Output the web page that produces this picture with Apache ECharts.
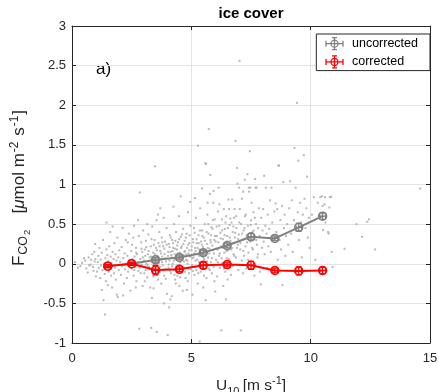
<!DOCTYPE html>
<html>
<head>
<meta charset="utf-8">
<script src="https://cdn.jsdelivr.net/npm/echarts@6/dist/echarts.min.js"></script>
<style>
  html, body { margin: 0; padding: 0; background: #ffffff; }
  #chart { width: 439px; height: 392px; }
</style>
</head>
<body>
<div id="chart"></div>
<script>
// Wind-speed bins (U10, m/s)
const binCenters = [1.5, 2.5, 3.5, 4.5, 5.5, 6.5, 7.5, 8.5, 9.5, 10.5];
// Bin-averaged CO2 flux, uncorrected
const uncorrected = [-0.03, 0.00, 0.05, 0.08, 0.14, 0.23, 0.34, 0.32, 0.46, 0.60];
const uncorrectedErr = [0.02, 0.02, 0.03, 0.03, 0.03, 0.03, 0.04, 0.03, 0.05, 0.04];
// Bin-averaged CO2 flux, corrected
const corrected = [-0.03, 0.00, -0.08, -0.07, -0.02, -0.01, -0.02, -0.085, -0.09, -0.085];
const correctedErr = [0.02, 0.02, 0.06, 0.03, 0.04, 0.03, 0.05, 0.03, 0.05, 0.04];
// Half-width of each wind-speed bin error bar
const windErr = [0.12, 0.12, 0.12, 0.12, 0.12, 0.12, 0.12, 0.12, 0.12, 0.12];

// Individual flux measurements [U10, FCO2]
const obs0to2 = [
  [0.12,0.02],[0.35,-0.03],[0.55,0.04],[0.6,-0.06],[0.7,0.08],[0.78,-0.01],[0.85,0.12],[0.9,-0.09],[0.95,0.03],[0.98,0.06],
  [0.42,0.01],[0.66,-0.11],[0.8,0.05],[0.88,-0.04],[0.93,0.15],[1.0,-0.16],[0.5,0.07],[0.72,-0.02],[0.25,-0.05],[0.97,0.25],
  [1.05,-0.1],[1.08,0.02],[1.1,0.1],[1.12,-0.05],[1.15,0.2],[1.18,-0.18],[1.2,0.05],[1.22,-0.02],[1.25,0.14],[1.28,-0.08],
  [1.3,0.3],[1.32,-0.46],[1.35,0.0],[1.37,-0.13],[1.38,-0.64],[1.4,0.07],[1.42,-0.22],[1.44,0.18],[1.46,-0.04],[1.48,0.11],
  [1.5,-0.27],[1.52,0.03],[1.54,-0.1],[1.56,0.22],[1.58,-0.06],[1.6,0.4],[1.62,0.09],[1.64,-0.15],[1.66,0.01],[1.68,-0.3],
  [1.7,0.15],[1.72,-0.02],[1.74,0.06],[1.76,-0.12],[1.78,0.26],[1.8,-0.05],[1.82,0.12],[1.84,-0.2],[1.86,0.04],[1.88,-0.39],
  [1.9,0.33],[1.92,-0.42],[1.94,0.08],[1.96,-0.08],[1.98,0.17],[1.45,0.52],[1.7,0.47],[1.25,-0.33]
];
const obs2to4 = [
  [2.02,0.02],[2.05,-0.14],[2.08,0.21],[2.1,-0.03],[2.12,0.45],[2.15,0.07],[2.18,-0.25],[2.2,0.13],[2.22,-0.07],[2.25,0.3],
  [2.28,0.0],[2.3,-0.18],[2.32,0.1],[2.35,-0.1],[2.38,0.38],[2.4,0.05],[2.42,-0.02],[2.45,-0.34],[2.48,0.16],[2.5,-0.06],
  [2.52,0.24],[2.55,0.03],[2.58,-0.15],[2.6,0.48],[2.62,0.09],[2.65,-0.04],[2.68,0.2],[2.7,-0.22],[2.72,0.12],[2.75,0.01],
  [2.78,-0.09],[2.8,0.35],[2.82,-0.82],[2.84,0.9],[2.86,0.06],[2.88,-0.12],[2.9,0.27],[2.92,-0.01],[2.94,0.15],[2.96,-0.28],
  [2.98,0.42],[2.33,0.27],[2.57,0.33],[2.67,-0.3],[2.14,-0.4],[2.77,0.55],
  [3.02,0.04],[3.05,0.18],[3.08,-0.08],[3.1,0.29],[3.12,0.0],[3.15,-0.17],[3.18,0.12],[3.2,0.37],[3.22,-0.04],[3.25,0.08],
  [3.28,-0.3],[3.3,0.22],[3.32,-0.81],[3.34,0.02],[3.36,0.47],[3.38,-0.12],[3.4,0.14],[3.42,-0.31],[3.44,0.06],[3.46,0.3],
  [3.48,1.23],[3.5,-0.06],[3.52,0.2],[3.54,0.55],[3.55,-0.86],[3.57,0.1],[3.6,-0.2],[3.62,0.26],[3.64,0.01],[3.66,0.4],
  [3.68,-0.1],[3.7,0.16],[3.72,0.05],[3.74,-0.25],[3.76,0.33],[3.78,0.09],[3.8,-0.02],[3.82,0.22],[3.84,0.58],[3.86,-0.15],
  [3.88,0.12],[3.9,0.28],[3.92,-0.07],[3.94,0.03],[3.96,0.45],[3.98,-0.38],[3.15,0.5],[3.6,0.62],[3.35,-0.43],[3.85,-0.5],
  [3.05,-0.22],[3.7,0.7]
];
const obs4to6 = [
  [4.01,-0.9],[4.02,0.1],[4.04,-0.05],[4.06,0.25],[4.07,-0.55],[4.08,0.04],[4.1,0.36],[4.12,-0.45],[4.13,0.15],[4.15,-0.12],
  [4.17,0.08],[4.18,-0.41],[4.2,0.3],[4.22,0.0],[4.24,0.2],[4.26,-0.08],[4.28,0.5],[4.3,0.12],[4.32,-0.2],[4.34,0.06],
  [4.36,0.4],[4.38,-0.03],[4.4,0.18],[4.42,-0.15],[4.44,0.27],[4.46,0.09],[4.48,0.6],[4.5,-0.28],[4.52,0.14],[4.54,0.02],
  [4.56,0.34],[4.58,-0.1],[4.6,0.22],[4.62,0.07],[4.64,-0.34],[4.66,0.44],[4.68,0.11],[4.7,-0.05],[4.72,0.29],[4.74,0.16],
  [4.76,-0.18],[4.78,0.05],[4.8,0.38],[4.81,-0.33],[4.82,0.2],[4.84,0.0],[4.86,0.65],[4.88,0.13],[4.9,-0.12],[4.92,0.26],
  [4.94,0.09],[4.96,0.48],[4.98,-0.07],[4.25,0.72],[4.55,0.85],[4.95,0.78],[4.35,-0.25],[4.85,-0.22],
  [5.01,0.17],[5.03,-0.02],[5.05,-0.39],[5.07,0.31],[5.09,0.08],[5.11,0.45],[5.13,-0.14],[5.15,0.2],[5.17,0.04],[5.19,0.58],
  [5.21,-0.08],[5.23,0.26],[5.25,0.12],[5.27,-0.25],[5.28,1.49],[5.3,0.36],[5.32,0.02],[5.34,0.18],[5.35,-0.98],[5.37,0.7],
  [5.39,-0.1],[5.41,0.28],[5.43,0.1],[5.45,0.42],[5.47,-0.04],[5.49,0.21],[5.5,-0.3],[5.52,0.33],[5.54,0.06],[5.56,0.5],
  [5.58,0.15],[5.59,1.27],[5.6,-0.46],[5.62,1.26],[5.63,-0.18],[5.65,0.25],[5.67,0.62],[5.68,0.77],[5.7,0.08],[5.72,0.38],
  [5.73,1.7],[5.74,-0.06],[5.76,0.19],[5.78,0.88],[5.79,1.12],[5.8,0.3],[5.82,0.02],[5.84,0.46],[5.86,-0.12],[5.88,0.23],
  [5.9,0.55],[5.92,0.77],[5.93,0.92],[5.95,0.13],[5.97,-0.22],[5.99,0.35],[5.45,0.95],[5.15,0.83]
];
const obs6to8 = [
  [6.02,0.28],[6.04,0.05],[6.06,0.47],[6.08,-0.16],[6.1,0.18],[6.12,0.66],[6.14,0.96],[6.16,0.1],[6.18,0.75],[6.2,-0.05],
  [6.22,0.39],[6.24,0.22],[6.26,-0.84],[6.28,0.56],[6.3,0.01],[6.32,0.31],[6.34,-0.28],[6.36,0.69],[6.38,0.14],[6.4,0.44],
  [6.42,-0.1],[6.44,0.26],[6.46,0.6],[6.48,0.07],[6.5,0.35],[6.52,-0.2],[6.54,0.17],[6.56,0.81],[6.58,0.69],[6.6,0.49],
  [6.62,0.03],[6.64,0.29],[6.66,-0.14],[6.68,0.52],[6.7,0.2],[6.71,0.81],[6.73,0.4],[6.75,-0.03],[6.77,0.12],[6.79,0.58],
  [6.81,0.69],[6.83,0.33],[6.85,1.55],[6.87,0.08],[6.89,0.45],[6.92,1.21],[6.93,1.01],[6.95,0.24],[6.97,-0.08],[6.99,0.37],
  [6.0,-0.35],[6.45,-0.45],
  [7.0,0.96],[7.02,2.56],[7.03,0.69],[7.05,0.18],[7.07,-0.84],[7.09,0.5],[7.11,0.04],[7.12,0.82],[7.14,0.3],[7.16,-0.12],
  [7.17,0.91],[7.19,0.42],[7.21,0.1],[7.24,1.06],[7.25,0.6],[7.27,0.22],[7.3,-0.06],[7.32,0.36],[7.35,1.13],[7.37,0.48],
  [7.39,0.14],[7.41,0.96],[7.42,0.91],[7.45,1.42],[7.47,0.28],[7.48,0.96],[7.5,0.55],[7.52,0.77],[7.54,-0.02],[7.56,0.4],
  [7.58,0.18],[7.6,0.65],[7.62,0.32],[7.64,-0.15],[7.67,1.07],[7.69,0.96],[7.71,0.5],[7.73,0.96],[7.75,0.24],[7.77,0.08],
  [7.8,0.45],[7.83,0.7],[7.86,0.35],[7.88,-0.1],[7.91,-0.26],[7.93,0.58],[7.96,0.2],[7.98,0.42]
];
const obs8to15 = [
  [8.01,0.69],[8.03,0.28],[8.05,1.11],[8.07,0.12],[8.1,0.48],[8.12,0.96],[8.15,0.38],[8.18,-0.05],[8.2,0.62],[8.23,0.22],
  [8.26,0.44],[8.3,0.8],[8.33,0.15],[8.36,0.96],[8.39,0.52],[8.42,0.3],[8.45,-0.12],[8.48,0.66],[8.53,0.76],[8.56,0.4],
  [8.6,0.69],[8.62,0.05],[8.65,1.24],[8.67,1.24],[8.7,0.3],[8.73,0.55],[8.76,0.18],[8.8,0.73],[8.82,-0.27],[8.85,1.03],
  [8.88,0.45],[8.91,0.62],[8.94,0.1],[8.97,0.35],
  [9.02,0.5],[9.06,0.24],[9.1,0.7],[9.14,1.04],[9.18,0.38],[9.21,0.8],[9.25,0.15],[9.3,0.55],[9.32,1.46],[9.37,0.96],
  [9.4,0.42],[9.43,2.03],[9.46,0.65],[9.48,1.3],[9.52,0.3],[9.56,0.77],[9.6,0.52],[9.63,0.08],[9.67,0.62],[9.71,1.37],
  [9.74,0.82],[9.78,0.45],[9.82,0.7],[9.85,1.1],[9.88,0.33],[9.92,0.58],[9.96,0.2],
  [10.05,0.62],[10.13,0.84],[10.2,0.05],[10.3,0.77],[10.4,0.84],[10.47,0.85],[10.5,0.73],[10.52,0.425],[10.58,0.75],[10.6,0.84],
  [10.62,0.52],[10.73,0.4],[10.75,0.38],[10.78,0.71],[10.8,0.84],[10.86,0.845],[10.88,0.15],[10.92,-0.04],[11.42,0.19],[11.92,0.5],
  [12.15,0.34],[12.37,0.53],[12.44,0.56],[12.7,0.18],[14.59,0.95]
];
// Densely sampled moderate-wind core, 2.5-7.5 m/s
const obsCore = [
  [2.53,0.06],[2.61,-0.08],[2.69,0.14],[2.74,0.02],[2.83,-0.05],[2.91,0.19],[2.97,0.08],[3.03,-0.12],[3.07,0.1],[3.11,0.21],
  [3.16,-0.02],[3.21,0.16],[3.26,-0.07],[3.31,0.09],[3.33,0.31],[3.37,0.04],[3.41,-0.16],[3.43,0.24],[3.47,0.12],[3.51,0.03],
  [3.56,0.17],[3.59,-0.11],[3.63,0.08],[3.67,0.22],[3.69,-0.04],[3.73,0.13],[3.77,0.02],[3.79,0.27],[3.83,-0.08],[3.87,0.19],
  [3.91,0.07],[3.93,-0.19],[3.97,0.24],[4.03,0.15],[4.05,-0.01],[4.09,0.21],[4.11,-0.09],[4.14,0.33],[4.16,0.11],[4.19,-0.03],
  [4.21,0.16],[4.23,0.26],[4.27,0.04],[4.29,-0.14],[4.31,0.19],[4.33,0.29],[4.37,0.08],[4.39,-0.07],[4.41,0.23],[4.43,0.13],
  [4.47,-0.02],[4.49,0.31],[4.51,0.06],[4.53,-0.17],[4.57,0.2],[4.59,0.1],[4.61,0.37],[4.63,-0.04],[4.67,0.25],[4.69,0.03],
  [4.71,0.15],[4.73,-0.1],[4.77,0.33],[4.79,0.12],[4.83,0.04],[4.87,0.24],[4.89,-0.06],[4.91,0.17],[4.93,0.36],[4.97,0.1],
  [5.02,0.22],[5.04,0.07],[5.06,-0.09],[5.08,0.27],[5.12,0.13],[5.14,0.39],[5.16,-0.04],[5.18,0.16],[5.22,0.31],[5.24,0.05],
  [5.26,0.2],[5.29,-0.12],[5.31,0.26],[5.33,0.1],[5.36,0.42],[5.38,0.15],[5.42,-0.02],[5.44,0.24],[5.46,0.35],[5.48,0.09],
  [5.51,0.18],[5.53,-0.15],[5.57,0.29],[5.61,0.11],[5.64,0.4],[5.66,0.03],[5.69,0.2],[5.71,0.5],[5.75,0.13],[5.77,-0.08],
  [5.81,0.27],[5.83,0.36],[5.87,0.07],[5.89,0.44],[5.91,0.17],[5.94,-0.04],[5.96,0.3],[5.98,0.56],[6.03,0.19],[6.07,0.35],
  [6.11,0.02],[6.13,0.27],[6.17,0.48],[6.19,0.13],[6.23,0.32],[6.27,0.07],[6.29,0.42],[6.33,0.2],[6.37,-0.06],[6.39,0.36],
  [6.43,0.52],[6.47,0.16],[6.51,0.28],[6.53,0.45],[6.57,0.06],[6.61,0.33],[6.63,0.57],[6.67,0.18],[6.72,0.26],[6.76,0.47],
  [6.8,0.1],[6.84,0.39],[6.88,0.6],[6.91,0.2],[6.96,0.31],[7.01,0.52],[7.06,0.26],[7.13,0.38],[7.18,0.16],[7.23,0.45],
  [7.28,0.62],[7.33,0.27],[7.38,0.05],[7.44,0.33],[7.49,0.49],[7.55,0.2],[7.61,0.42],[7.66,0.58],[7.72,0.3],[7.79,0.12]
];

// Axis ticks
const xTicks = [0, 5, 10, 15];
const yTicks = [-1, -0.5, 0, 0.5, 1, 1.5, 2, 2.5, 3];

const observations = [].concat(obs0to2, obs2to4, obs4to6, obs6to8, obs8to15, obsCore);

const GRAY = '#808080';
const RED = '#ff0000';
const INK = '#262626';
const FONT = '"Liberation Sans", Arial, Helvetica, sans-serif';

// Error-bar glyph used as legend icon
const errIcon = 'path://M0,6L17,6M0,3L0,9M17,3L17,9M8.5,0L8.5,12M6,0L11,0M6,12L11,12' +
  'M12,6A3.5,3.5,0,1,1,5,6A3.5,3.5,0,1,1,12,6';

function errorBars(color) {
  return function (params, api) {
    const x = api.value(0), y = api.value(1), ey = api.value(2), ex = api.value(3);
    const lo = api.coord([x, y - ey]);
    const hi = api.coord([x, y + ey]);
    const le = api.coord([x - ex, y]);
    const ri = api.coord([x + ex, y]);
    const c = 3;
    const style = { stroke: color, lineWidth: 1.3, fill: null };
    const seg = (x1, y1, x2, y2) => ({ type: 'line', shape: { x1, y1, x2, y2 }, style });
    return {
      type: 'group',
      children: [
        seg(lo[0], lo[1], hi[0], hi[1]),
        seg(lo[0] - c, lo[1], lo[0] + c, lo[1]),
        seg(hi[0] - c, hi[1], hi[0] + c, hi[1]),
        seg(le[0], le[1], ri[0], ri[1]),
        seg(le[0], le[1] - c, le[0], le[1] + c),
        seg(ri[0], ri[1] - c, ri[0], ri[1] + c)
      ]
    };
  };
}

const chart = echarts.init(document.getElementById('chart'), null, { renderer: 'canvas' });

const frameAxis = {
  axisLine: { show: true, onZero: false, lineStyle: { color: INK, width: 1 } },
  axisTick: { show: true, inside: true, length: 4, lineStyle: { color: INK, width: 1 } }
};

chart.setOption({
  animation: false,
  backgroundColor: '#ffffff',
  textStyle: { fontFamily: FONT },
  grid: { left: 72, right: 9, top: 26, bottom: 49, containLabel: false, outerBoundsMode: 'none' },
  legend: {
    orient: 'vertical',
    right: 9, top: 34,
    backgroundColor: '#ffffff',
    borderColor: INK, borderWidth: 1, borderRadius: 0,
    padding: [3, 12, 2, 9],
    itemWidth: 17, itemHeight: 12, itemGap: 5,
    textStyle: { fontFamily: FONT, fontSize: 12.5, color: '#000', padding: [0, 0, 0, 4] },
    data: [
      { name: 'uncorrected', icon: errIcon, itemStyle: { color: 'rgba(0,0,0,0)', borderColor: GRAY, borderWidth: 1.3 } },
      { name: 'corrected', icon: errIcon, itemStyle: { color: 'rgba(0,0,0,0)', borderColor: RED, borderWidth: 1.3 } }
    ]
  },
  graphic: [
    {
      type: 'text', x: 251, y: 6,
      style: { text: 'ice cover', fontFamily: FONT, fontSize: 15, fontWeight: 'bold', fill: '#000', align: 'center', verticalAlign: 'top' }
    },
    {
      type: 'text', left: 96, top: 61,
      style: { text: 'a)', fontFamily: FONT, fontSize: 17, fill: '#000' }
    }
  ],
  xAxis: [
    Object.assign({}, frameAxis, {
      type: 'value', min: xTicks[0], max: xTicks[xTicks.length - 1], interval: 5,
      position: 'bottom',
      axisLabel: { color: INK, fontSize: 13, fontFamily: FONT, margin: 9 },
      splitLine: { show: true, lineStyle: { color: '#e3e3e3', width: 1 } },
      name: '{b|U}{s|10} {b|[m s}{p|-1}{b|]}',
      nameLocation: 'middle', nameGap: 32,
      nameTextStyle: {
        rich: {
          b: { fontSize: 15.5, fontFamily: FONT, color: INK, lineHeight: 22 },
          s: { fontSize: 11, fontFamily: FONT, color: INK, verticalAlign: 'bottom', lineHeight: 10 },
          p: { fontSize: 11, fontFamily: FONT, color: INK, verticalAlign: 'top', lineHeight: 10 }
        }
      }
    }),
    Object.assign({}, frameAxis, {
      type: 'value', min: xTicks[0], max: xTicks[xTicks.length - 1], interval: 5,
      position: 'top', axisLabel: { show: false }, splitLine: { show: false }
    })
  ],
  yAxis: [
    Object.assign({}, frameAxis, {
      type: 'value', min: yTicks[0], max: yTicks[yTicks.length - 1], interval: 0.5,
      position: 'left',
      axisLabel: { color: INK, fontSize: 13, fontFamily: FONT, margin: 6 },
      splitLine: { show: true, lineStyle: { color: '#e3e3e3', width: 1 } },
      name: '{b|F}{s|CO}{ss|2}{b|   [}{i|μ}{b|mol m}{p|-2}{b| s}{p|-1}{b|]}',
      nameLocation: 'middle', nameRotate: 90, nameGap: 34,
      nameTextStyle: {
        padding: [0, 7, 0, 0],
        rich: {
          b: { fontSize: 17, fontFamily: FONT, color: INK, lineHeight: 26 },
          i: { fontSize: 17, fontFamily: FONT, fontStyle: 'italic', color: INK, lineHeight: 26 },
          s: { fontSize: 12.5, fontFamily: FONT, color: INK, verticalAlign: 'bottom', lineHeight: 12, padding: [0, 1, 3, 1] },
          ss: { fontSize: 9.5, fontFamily: FONT, color: INK, verticalAlign: 'bottom', lineHeight: 9, padding: [0, 2, 0, 0] },
          p: { fontSize: 12, fontFamily: FONT, color: INK, verticalAlign: 'top', lineHeight: 11, padding: [2, 1, 0, 1] }
        }
      }
    }),
    Object.assign({}, frameAxis, {
      type: 'value', min: yTicks[0], max: yTicks[yTicks.length - 1], interval: 0.5,
      position: 'right', axisLabel: { show: false }, splitLine: { show: false }
    })
  ],
  series: [
    {
      name: 'observations',
      type: 'scatter',
      data: observations,
      symbol: 'rect',
      symbolSize: 2,
      itemStyle: { color: '#a8a8a8' },
      silent: true,
      z: 1
    },
    {
      name: 'uncorrected',
      type: 'line',
      data: binCenters.map((x, i) => [x, uncorrected[i]]),
      symbol: 'circle', symbolSize: 8,
      itemStyle: { color: 'rgba(0,0,0,0)', borderColor: GRAY, borderWidth: 1.5 },
      lineStyle: { color: GRAY, width: 2 },
      z: 3
    },
    {
      type: 'custom',
      renderItem: errorBars(GRAY),
      data: binCenters.map((x, i) => [x, uncorrected[i], uncorrectedErr[i], windErr[i]]),
      encode: { x: 0, y: 1 },
      z: 4
    },
    {
      name: 'corrected',
      type: 'line',
      data: binCenters.map((x, i) => [x, corrected[i]]),
      symbol: 'circle', symbolSize: 8,
      itemStyle: { color: 'rgba(0,0,0,0)', borderColor: RED, borderWidth: 1.5 },
      lineStyle: { color: RED, width: 2 },
      z: 5
    },
    {
      type: 'custom',
      renderItem: errorBars(RED),
      data: binCenters.map((x, i) => [x, corrected[i], correctedErr[i], windErr[i]]),
      encode: { x: 0, y: 1 },
      z: 6
    }
  ]
});
</script>
</body>
</html>
